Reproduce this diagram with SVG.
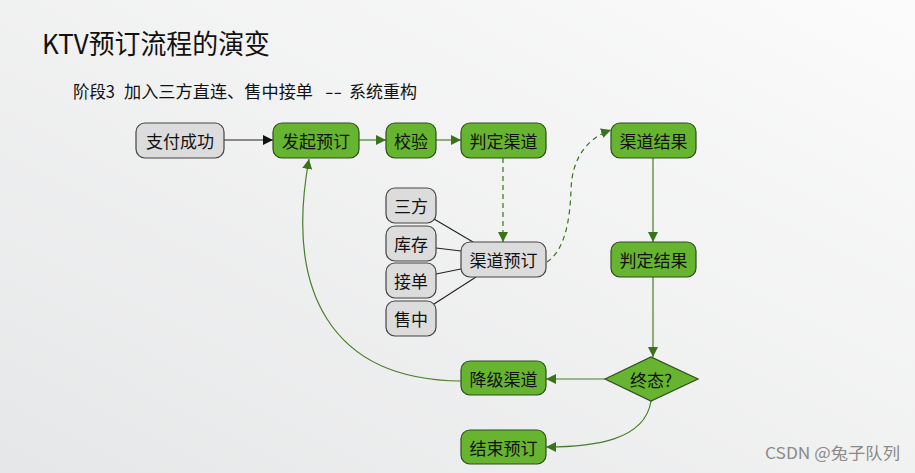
<svg xmlns="http://www.w3.org/2000/svg" width="915" height="473" viewBox="0 0 915 473">
<defs>
<linearGradient id="bg" x1="1" y1="0" x2="0" y2="1">
<stop offset="0" stop-color="#fbfbfb"/>
<stop offset="1" stop-color="#e6e7e8"/>
</linearGradient>
<marker id="ab" viewBox="0 0 10 10" refX="10" refY="5" markerWidth="10" markerHeight="10" markerUnits="userSpaceOnUse" orient="auto"><path d="M0,0 L10,5 L0,10 Z" fill="#111"/></marker>
<marker id="ag" viewBox="0 0 10 10" refX="10" refY="5" markerWidth="10" markerHeight="10" markerUnits="userSpaceOnUse" orient="auto"><path d="M0,0 L10,5 L0,10 Z" fill="#3a7319"/></marker>
</defs>
<style>
.g{fill:#67b431;stroke:#2f4d1c;stroke-width:1.2}
.w{fill:#dcdcdc;stroke:#444;stroke-width:1.2}
.t{font-family:"Noto Sans CJK SC","Noto Sans",sans-serif;font-size:17px;fill:#111;text-anchor:middle;dominant-baseline:central}
.c{fill:none;stroke:#4a7d2a;stroke-width:1.2}
.d{fill:none;stroke:#3a7319;stroke-width:1.2;stroke-dasharray:5,4}
.k{fill:none;stroke:#222;stroke-width:1.1}
.s{font-family:"Noto Sans CJK SC",sans-serif;font-size:17px;fill:#111}
</style>
<rect width="915" height="473" fill="url(#bg)"/>
<text x="42" y="54" font-family="'Noto Sans CJK SC',sans-serif" font-size="27" fill="#111" textLength="228" lengthAdjust="spacingAndGlyphs">KTV预订流程的演变</text>
<text class="s" x="73" y="98" textLength="42" lengthAdjust="spacingAndGlyphs">阶段3</text>
<text class="s" x="124" y="98" textLength="189" lengthAdjust="spacingAndGlyphs">加入三方直连、售中接单</text>
<text class="s" x="325" y="98" textLength="17" lengthAdjust="spacingAndGlyphs">--</text>
<text class="s" x="349" y="98" textLength="68" lengthAdjust="spacingAndGlyphs">系统重构</text>
<text x="765" y="459" font-family="'Noto Sans CJK SC',sans-serif" font-size="16" fill="#8a8a8a" textLength="135" lengthAdjust="spacingAndGlyphs">CSDN @兔子队列</text>

<g id="connectors">
<path class="k" d="M224,140 L273,140" marker-end="url(#ab)"/>
<path class="c" d="M359,140 L386,140" marker-end="url(#ag)"/>
<path class="c" d="M436,140 L461,140" marker-end="url(#ag)"/>
<path class="d" d="M503,158 L503,242" marker-end="url(#ag)"/>
<path class="d" d="M547,262 C565,250 570,220 571,190 C572,155 590,137 611,130" marker-end="url(#ag)"/>
<path class="c" d="M653,158 L653,242" marker-end="url(#ag)"/>
<path class="c" d="M653,277 L653,357" marker-end="url(#ag)"/>
<path class="c" d="M605,379 L546,379" marker-end="url(#ag)"/>
<path class="c" d="M651,401 C645,440 595,447 546,447" marker-end="url(#ag)"/>
<path class="c" d="M461,381 C330,380 285,290 309,159" marker-end="url(#ag)"/>
<path class="k" d="M434,219 L473,242"/>
<path class="k" d="M436,248 L461,251"/>
<path class="k" d="M436,274 L461,269"/>
<path class="k" d="M434,304 L476,277"/>
</g>

<g id="n1"><rect class="w" x="136" y="123" width="88" height="35" rx="9"/><text class="t" x="180" y="140.5">支付成功</text></g>
<g id="n2"><rect class="g" x="273" y="123" width="86" height="35" rx="9"/><text class="t" x="316" y="140.5">发起预订</text></g>
<g id="n3"><rect class="g" x="386" y="123" width="50" height="35" rx="9"/><text class="t" x="411" y="140.5">校验</text></g>
<g id="n4"><rect class="g" x="461" y="123" width="85" height="35" rx="9"/><text class="t" x="503.5" y="140.5">判定渠道</text></g>
<g id="n5"><rect class="g" x="611" y="123" width="85" height="35" rx="9"/><text class="t" x="653.5" y="140.5">渠道结果</text></g>
<g id="n6"><rect class="g" x="611" y="242" width="85" height="35" rx="9"/><text class="t" x="653.5" y="259.5">判定结果</text></g>
<g id="n7"><rect class="w" x="461" y="242" width="85" height="35" rx="9"/><text class="t" x="503.5" y="259.5">渠道预订</text></g>
<g id="n8"><rect class="w" x="386" y="188" width="50" height="35" rx="9"/><text class="t" x="411" y="205.5">三方</text></g>
<g id="n9"><rect class="w" x="386" y="226" width="50" height="35" rx="9"/><text class="t" x="411" y="243.5">库存</text></g>
<g id="n10"><rect class="w" x="386" y="263" width="50" height="35" rx="9"/><text class="t" x="411" y="280.5">接单</text></g>
<g id="n11"><rect class="w" x="386" y="301" width="50" height="35" rx="9"/><text class="t" x="411" y="318.5">售中</text></g>
<g id="n12"><path class="g" d="M605,379 L651,357 L698,379 L651,401 Z"/><text class="t" x="651" y="379.5">终态?</text></g>
<g id="n13"><rect class="g" x="461" y="361" width="85" height="34" rx="9"/><text class="t" x="503.5" y="378">降级渠道</text></g>
<g id="n14"><rect class="g" x="461" y="430" width="85" height="34" rx="9"/><text class="t" x="503.5" y="447">结束预订</text></g>
</svg>
